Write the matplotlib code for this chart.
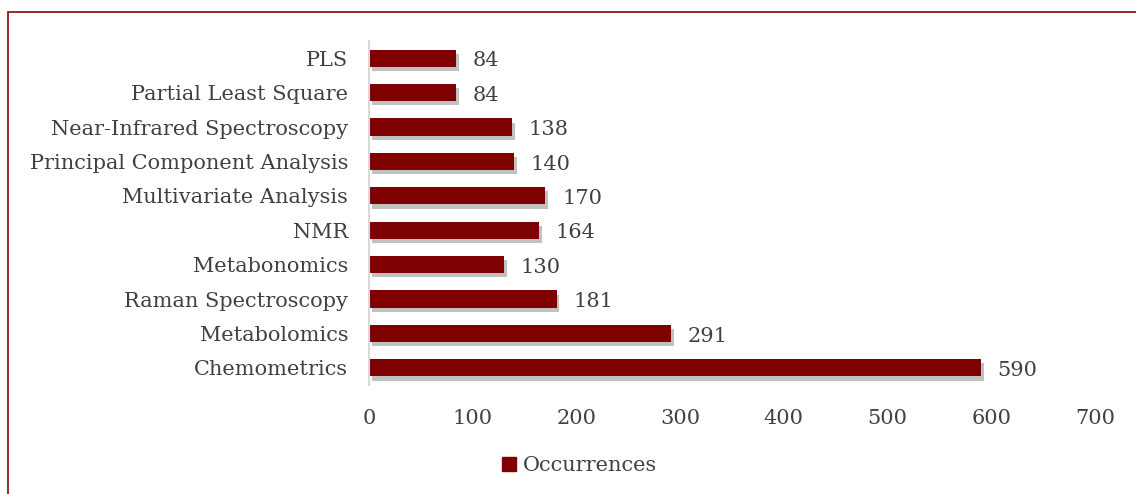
import matplotlib.pyplot as plt
import matplotlib.patheffects as pe
from matplotlib.patches import Rectangle, Patch

# data (bottom to top)
terms = ["Chemometrics", "Metabolomics", "Raman Spectroscopy", "Metabonomics",
         "NMR", "Multivariate Analysis", "Principal Component Analysis",
         "Near-Infrared Spectroscopy", "Partial Least Square", "PLS"]
counts = [590, 291, 181, 130, 164, 170, 140, 138, 84, 84]
xticks = [0, 100, 200, 300, 400, 500, 600, 700]

bar_color = "#7f0000"
text_color = "#404040"
plt.rcParams["font.family"] = ["DejaVu Serif"]

fig = plt.figure(figsize=(11.36, 4.94), dpi=100)
ax = fig.add_axes([0.3248, 0.2206, 0.6391, 0.6964])

shadow = [pe.SimplePatchShadow(offset=(2, -3), shadow_rgbFace="#666666", alpha=0.4), pe.Normal()]
bars = ax.barh(terms, counts, height=0.5, color=bar_color, label="Occurrences")
for b in bars:
    b.set_path_effects(shadow)

for b, v in zip(bars, counts):
    ax.annotate(str(v), (b.get_width(), b.get_y() + b.get_height() / 2),
                xytext=(12, -2), textcoords="offset points", va="center",
                fontsize=15, color=text_color)

ax.set_xlim(0, 700)
ax.set_ylim(-0.5, len(terms) - 0.5)
ax.set_xticks(xticks)
ax.tick_params(axis="both", length=0, labelsize=15, colors=text_color)
ax.tick_params(axis="x", pad=17)
ax.tick_params(axis="y", pad=15)
for s in ["top", "right", "bottom"]:
    ax.spines[s].set_visible(False)
ax.spines["left"].set_color("#d9d9d9")
ax.spines["left"].set_linewidth(1.5)

fig.legend(handles=[Patch(color=bar_color, label="Occurrences")],
           loc="center", bbox_to_anchor=(0.51, 0.057), frameon=False,
           fontsize=15, handlelength=0.7, handleheight=0.7, handletextpad=0.3,
           labelcolor=text_color)

# chart frame, cut off at right and bottom
fig.patches.append(Rectangle((8 / 1136, -0.05), 1.1, 1 - 12 / 494 + 0.05,
                             transform=fig.transFigure, fill=False,
                             edgecolor="#8b1a1a", linewidth=1.3))

fig.savefig("out.png", dpi=100)
